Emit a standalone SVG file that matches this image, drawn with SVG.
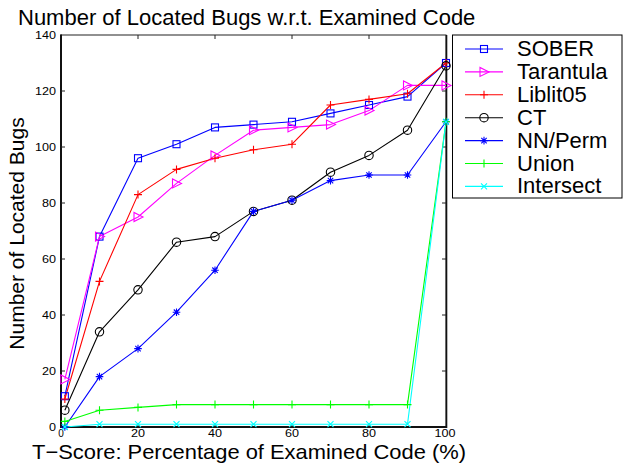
<svg xmlns="http://www.w3.org/2000/svg" xmlns:xlink="http://www.w3.org/1999/xlink" width="623" height="463" viewBox="0 0 623 463">
<style>
text{font-family:"Liberation Sans",Arial,sans-serif;fill:#000}
.title{font-size:22px}
.axl{font-size:21px}
.yl{font-size:21px}
.tk{font-size:10px}
.lg{font-size:22px}
.ln{fill:none;stroke-width:1.1;stroke-linejoin:round}
.mk{fill:none;stroke-width:1.1}
.sober{stroke:#0000ff}
.tar{stroke:#ff00ff}
.lib{stroke:#ff0000}
.ct{stroke:#000000}
.nn{stroke:#0000ff}
.uni{stroke:#00ff00}
.ins{stroke:#00ffff}
.tick{stroke:#222;stroke-width:1}
</style>
<defs>
<g id="sq"><rect x="-3.5" y="-3.5" width="7" height="7"/></g>
<g id="tri"><path d="M-4,-4.5L-4,4.5L5,0Z"/></g>
<g id="pl"><path d="M-4,0H4M0,-4V4"/></g>
<g id="ci"><circle r="4.2"/></g>
<g id="st"><path d="M-3.8,0H3.8M0,-3.8V3.8M-2.7,-2.7L2.7,2.7M-2.7,2.7L2.7,-2.7"/></g>
<g id="xm"><path d="M-3,-3L3,3M-3,3L3,-3"/></g>
</defs>
<rect width="623" height="463" fill="#fff"/>
<text class="title" x="18" y="25">Number of Located Bugs w.r.t. Examined Code</text>
<g id="axes">
<rect x="61" y="35" width="385" height="392" fill="none" stroke="#222" stroke-width="1"/>
<line x1="61" y1="34.5" x2="61" y2="428" stroke="#111" stroke-width="2"/>
<line x1="60" y1="427" x2="447" y2="427" stroke="#111" stroke-width="2"/>
<line x1="446.5" y1="35" x2="446.5" y2="428" stroke="#111" stroke-width="1.6"/>
<path class="tick" d="M61,91h4M61,147h4M61,203h4M61,259h4M61,315h4M61,371h4M446,91h-4M446,147h-4M446,203h-4M446,259h-4M446,315h-4M446,371h-4M138,35v4M215,35v4M292,35v4M369,35v4M138,427v-4M215,427v-4M292,427v-4M369,427v-4"/>
<g class="tk" text-anchor="end">
<text x="56" y="39" textLength="21" lengthAdjust="spacingAndGlyphs">140</text>
<text x="56" y="95" textLength="21" lengthAdjust="spacingAndGlyphs">120</text>
<text x="56" y="151" textLength="21" lengthAdjust="spacingAndGlyphs">100</text>
<text x="56" y="207" textLength="14" lengthAdjust="spacingAndGlyphs">80</text>
<text x="56" y="263" textLength="14" lengthAdjust="spacingAndGlyphs">60</text>
<text x="56" y="319" textLength="14" lengthAdjust="spacingAndGlyphs">40</text>
<text x="56" y="375" textLength="14" lengthAdjust="spacingAndGlyphs">20</text>
<text x="56" y="431" textLength="7" lengthAdjust="spacingAndGlyphs">0</text>
</g>
<g class="tk" text-anchor="middle">
<text x="61" y="437">0</text>
<text x="138" y="437" textLength="14" lengthAdjust="spacingAndGlyphs">20</text>
<text x="215" y="437" textLength="14" lengthAdjust="spacingAndGlyphs">40</text>
<text x="292" y="437" textLength="14" lengthAdjust="spacingAndGlyphs">60</text>
<text x="369" y="437" textLength="14" lengthAdjust="spacingAndGlyphs">80</text>
<text x="445" y="437" textLength="21" lengthAdjust="spacingAndGlyphs">100</text>
</g>
<text class="axl" x="32" y="458.5" textLength="434" lengthAdjust="spacingAndGlyphs">T−Score: Percentage of Examined Code (%)</text>
<text class="yl" transform="translate(24,233.5) rotate(-90)" text-anchor="middle">Number of Located Bugs</text>
</g>
<g id="connectors">
<polyline class="ln sober" points="64.85,396.2 99.5,236.6 138,158.2 176.5,144.2 215,127.4 253.5,124.6 292,121.8 330.5,113.4 369,105 407.5,96.6 446,63"/>
<polyline class="ln tar" points="64.85,379.4 99.5,236.6 138,217 176.5,183.4 215,155.4 253.5,130.2 292,127.4 330.5,124.6 369,110.6 407.5,85.4 446,85.4"/>
<polyline class="ln lib" points="64.85,399 99.5,281.4 138,194.6 176.5,169.4 215,158.2 253.5,149.8 292,144.2 330.5,105 369,99.4 407.5,93.8 446,63"/>
<polyline class="ln ct" points="64.85,410.2 99.5,331.8 138,289.8 176.5,242.2 215,236.6 253.5,211.4 292,200.2 330.5,172.2 369,155.4 407.5,130.2 446,65.8"/>
<polyline class="ln nn" points="64.85,427 99.5,376.6 138,348.6 176.5,312.2 215,270.2 253.5,211.4 292,200.2 330.5,180.6 369,175 407.5,175 446,121.8"/>
<polyline class="ln uni" points="64.85,421.4 99.5,410.2 138,407.4 176.5,404.6 215,404.6 253.5,404.6 292,404.6 330.5,404.6 369,404.6 407.5,404.6 446,121.8"/>
<polyline class="ln ins" stroke-width="1.6" points="64.85,427 99.5,424.2 138,424.2 176.5,424.2 215,424.2 253.5,424.2 292,424.2 330.5,424.2 369,424.2 407.5,424.2 446,121.8"/>
</g>
<g id="SOBER" class="mk sober">
<use href="#sq" x="64.85" y="396.2"/><use href="#sq" x="99.5" y="236.6"/><use href="#sq" x="138" y="158.2"/><use href="#sq" x="176.5" y="144.2"/><use href="#sq" x="215" y="127.4"/><use href="#sq" x="253.5" y="124.6"/><use href="#sq" x="292" y="121.8"/><use href="#sq" x="330.5" y="113.4"/><use href="#sq" x="369" y="105"/><use href="#sq" x="407.5" y="96.6"/><use href="#sq" x="446" y="63"/>
</g>
<g id="Tarantula" class="mk tar">
<use href="#tri" x="64.85" y="379.4"/><use href="#tri" x="99.5" y="236.6"/><use href="#tri" x="138" y="217"/><use href="#tri" x="176.5" y="183.4"/><use href="#tri" x="215" y="155.4"/><use href="#tri" x="253.5" y="130.2"/><use href="#tri" x="292" y="127.4"/><use href="#tri" x="330.5" y="124.6"/><use href="#tri" x="369" y="110.6"/><use href="#tri" x="407.5" y="85.4"/><use href="#tri" x="446" y="85.4"/>
</g>
<g id="Liblit05" class="mk lib">
<use href="#pl" x="64.85" y="399"/><use href="#pl" x="99.5" y="281.4"/><use href="#pl" x="138" y="194.6"/><use href="#pl" x="176.5" y="169.4"/><use href="#pl" x="215" y="158.2"/><use href="#pl" x="253.5" y="149.8"/><use href="#pl" x="292" y="144.2"/><use href="#pl" x="330.5" y="105"/><use href="#pl" x="369" y="99.4"/><use href="#pl" x="407.5" y="93.8"/><use href="#pl" x="446" y="63"/>
</g>
<g id="CT" class="mk ct">
<use href="#ci" x="64.85" y="410.2"/><use href="#ci" x="99.5" y="331.8"/><use href="#ci" x="138" y="289.8"/><use href="#ci" x="176.5" y="242.2"/><use href="#ci" x="215" y="236.6"/><use href="#ci" x="253.5" y="211.4"/><use href="#ci" x="292" y="200.2"/><use href="#ci" x="330.5" y="172.2"/><use href="#ci" x="369" y="155.4"/><use href="#ci" x="407.5" y="130.2"/><use href="#ci" x="446" y="65.8"/>
</g>
<g id="NNPerm" class="mk nn">
<use href="#st" x="64.85" y="427"/><use href="#st" x="99.5" y="376.6"/><use href="#st" x="138" y="348.6"/><use href="#st" x="176.5" y="312.2"/><use href="#st" x="215" y="270.2"/><use href="#st" x="253.5" y="211.4"/><use href="#st" x="292" y="200.2"/><use href="#st" x="330.5" y="180.6"/><use href="#st" x="369" y="175"/><use href="#st" x="407.5" y="175"/><use href="#st" x="446" y="121.8"/>
</g>
<g id="Union" class="mk uni">
<use href="#pl" x="64.85" y="421.4"/><use href="#pl" x="99.5" y="410.2"/><use href="#pl" x="138" y="407.4"/><use href="#pl" x="176.5" y="404.6"/><use href="#pl" x="215" y="404.6"/><use href="#pl" x="253.5" y="404.6"/><use href="#pl" x="292" y="404.6"/><use href="#pl" x="330.5" y="404.6"/><use href="#pl" x="369" y="404.6"/><use href="#pl" x="407.5" y="404.6"/><use href="#pl" x="446" y="121.8"/>
</g>
<g id="Intersect" class="mk ins">
<use href="#xm" x="64.85" y="427"/><use href="#xm" x="99.5" y="424.2"/><use href="#xm" x="138" y="424.2"/><use href="#xm" x="176.5" y="424.2"/><use href="#xm" x="215" y="424.2"/><use href="#xm" x="253.5" y="424.2"/><use href="#xm" x="292" y="424.2"/><use href="#xm" x="330.5" y="424.2"/><use href="#xm" x="369" y="424.2"/><use href="#xm" x="407.5" y="424.2"/><use href="#xm" x="446" y="121.8"/>
</g>
<g id="legend">
<rect x="452.5" y="35" width="169.5" height="163" fill="#fff" stroke="#000" stroke-width="1"/>
<g class="mk sober"><line x1="465" y1="49" x2="503" y2="49"/><use href="#sq" x="484" y="49"/></g>
<g class="mk tar"><line x1="465" y1="71.9" x2="503" y2="71.9"/><use href="#tri" x="484" y="71.9"/></g>
<g class="mk lib"><line x1="465" y1="94.8" x2="503" y2="94.8"/><use href="#pl" x="484" y="94.8"/></g>
<g class="mk ct"><line x1="465" y1="117.7" x2="503" y2="117.7"/><use href="#ci" x="484" y="117.7"/></g>
<g class="mk nn"><line x1="465" y1="140.6" x2="503" y2="140.6"/><use href="#st" x="484" y="140.6"/></g>
<g class="mk uni"><line x1="465" y1="163.5" x2="503" y2="163.5"/><use href="#pl" x="484" y="163.5"/></g>
<g class="mk ins"><line x1="465" y1="186.4" x2="503" y2="186.4"/><use href="#xm" x="484" y="186.4"/></g>
<text class="lg" x="517" y="56">SOBER</text>
<text class="lg" x="517" y="78.9">Tarantula</text>
<text class="lg" x="517" y="101.8">Liblit05</text>
<text class="lg" x="517" y="124.7">CT</text>
<text class="lg" x="517" y="147.6">NN/Perm</text>
<text class="lg" x="517" y="170.5">Union</text>
<text class="lg" x="517" y="193.4">Intersect</text>
</g>
</svg>
